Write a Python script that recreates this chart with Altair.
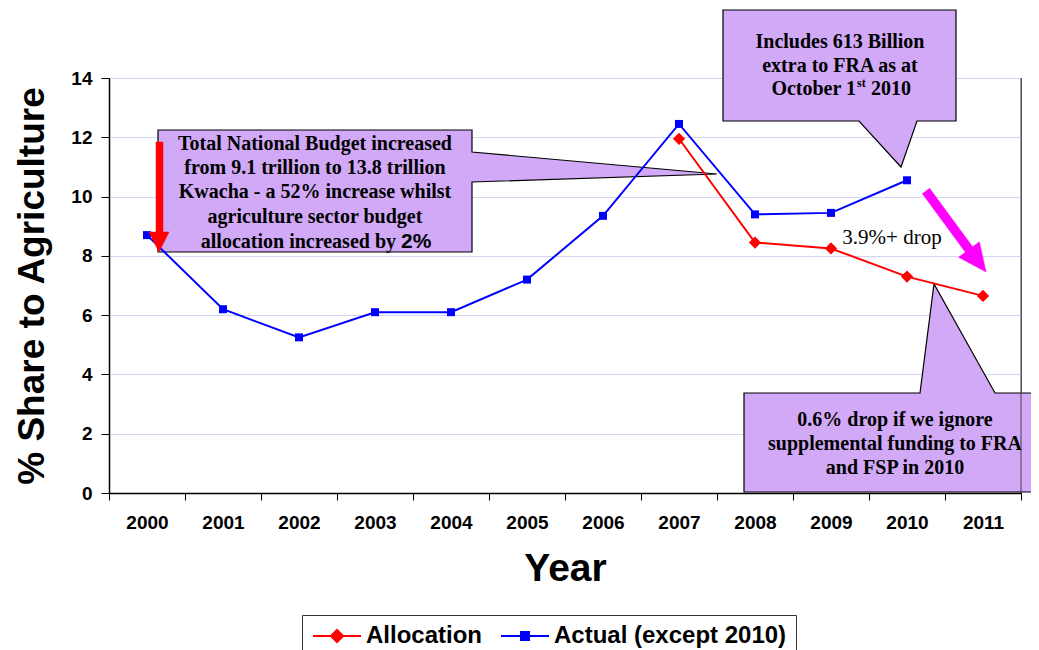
import altair as alt
import pandas as pd

# ---------------- data ----------------
years = ["2000", "2001", "2002", "2003", "2004", "2005",
         "2006", "2007", "2008", "2009", "2010", "2011"]
allocation = [None, None, None, None, None, None, None,
              11.95, 8.45, 8.25, 7.3, 6.65]
actual = [8.7, 6.2, 5.25, 6.1, 6.1, 7.2, 9.35,
          12.45, 9.4, 9.45, 10.55, None]
series_names = ["Allocation", "Actual (except 2010)"]
series_colors = ["#FF0000", "#0000FF"]
y_ticks = [0, 2, 4, 6, 8, 10, 12, 14]

rows = []
for name, vals in zip(series_names, [allocation, actual]):
    for yr, v in zip(years, vals):
        if v is not None:
            rows.append({"year": yr, "series": name, "value": v})
df = pd.DataFrame(rows)
one = pd.DataFrame({"k": [0]})

# ---------------- styling ----------------
W, H = 912, 415
SERIF = "Liberation Serif"
SANS = "Liberation Sans"
CALLOUT_FILL = "#d1a9f7"

x_enc = alt.X(
    "year:O",
    scale=alt.Scale(type="band", domain=years, paddingInner=0, paddingOuter=0),
    axis=alt.Axis(
        labelAngle=0, tickBand="extent", tickSize=7, tickColor="black",
        domainColor="black", domainWidth=1.5, labelPadding=13,
        labelFont=SANS, labelFontSize=19, labelFontWeight="bold", labelColor="black",
        titleFont=SANS, titleFontSize=39, titleFontWeight="bold", titleColor="black",
        titlePadding=17, grid=False, zindex=1,
    ),
    title="Year",
)
y_enc = alt.Y(
    "value:Q",
    scale=alt.Scale(domain=[0, 14], nice=False, zero=True),
    axis=alt.Axis(
        values=y_ticks, tickSize=8, tickColor="black", domainColor="black",
        domainWidth=1.5, labelPadding=9,
        labelFont=SANS, labelFontSize=19, labelFontWeight="bold", labelColor="black",
        titleFont=SANS, titleFontSize=37, titleFontWeight="bold", titleColor="black",
        titlePadding=19, grid=True, gridColor="#d4d4f7", gridWidth=1,
    ),
    title="% Share to Agriculture",
)

base = alt.Chart(df).encode(x=x_enc, y=y_enc)


def series_layers(name, color, shape, size):
    sub = base.transform_filter(alt.datum.series == name)
    line = sub.mark_line(color=color, strokeWidth=2)
    pts = sub.mark_point(shape=shape, filled=True, color=color, size=size,
                         opacity=1, strokeWidth=0)
    return [line, pts]


# legend (line + marker symbols)
legend_paths = [
    "M-2.4,0H2.4M-0.6,0L0,-0.6L0.6,0L0,0.6Z",
    "M-2.4,0H2.4M-0.4,-0.4H0.4V0.4H-0.4Z",
]
leg = alt.Legend(
    title=None, orient="none", legendX=193, legendY=537, direction="horizontal",
    symbolSize=400, symbolStrokeWidth=2, symbolOffset=14, labelOffset=17,
    symbolOpacity=1, labelFont=SANS, labelFontSize=24, labelFontWeight="bold",
    labelColor="black", labelLimit=500, padding=9, strokeColor="#333",
    columnPadding=14, fillColor="white",
)
legend_layer = base.mark_point(filled=True, opacity=0, strokeWidth=2).encode(
    fill=alt.Fill("series:N", scale=alt.Scale(domain=series_names, range=series_colors), legend=leg),
    stroke=alt.Stroke("series:N", scale=alt.Scale(domain=series_names, range=series_colors), legend=leg),
    shape=alt.Shape("series:N", scale=alt.Scale(domain=series_names, range=legend_paths), legend=leg),
)


def shape_poly(path, fill, stroke="black", sw=1.2):
    return alt.Chart(one).mark_point(
        shape=path, size=4, filled=True, fill=fill, stroke=stroke,
        strokeWidth=sw, opacity=1
    ).encode(x=alt.value(0), y=alt.value(0))


def label(txt, x, y, size=20, font=SERIF, weight="bold", align="center"):
    return alt.Chart(one).mark_text(
        text=txt, font=font, fontSize=size, fontWeight=weight, align=align,
        baseline="middle", color="black"
    ).encode(x=alt.value(x), y=alt.value(y))


callouts = [
    shape_poly("M49,52L363,52L363,74L608,96L363,104L363,174L49,174Z", CALLOUT_FILL),
    shape_poly("M614,-68L847,-68L847,43L808,43L792,89L750,43L614,43Z", CALLOUT_FILL),
    shape_poly("M635,315L811,315L825,206L886,315L927,315L927,414L635,414Z", CALLOUT_FILL),
]
arrows = [
    shape_poly("M47,64L54,64L54,154L60,154L50,174L40,154L47,154Z", "#FF0000", stroke="#FF0000", sw=0.5),
    shape_poly("M813.4,115.7L820.6,110.3L863.6,168.8L870.4,163.8L877,194L849.6,179.2L856.4,174.2Z",
               "#FF00FF", stroke="#FF00FF", sw=0.5),
]
texts = [
    label("Total National Budget  increased", 206, 66),
    label("from 9.1 trillion to 13.8 trillion", 206, 90),
    label("Kwacha -  a 52% increase whilst", 206, 114),
    label("agriculture sector budget", 206, 139),
    label("allocation increased by", 287, 164, align="right"),
    label("2%", 292, 164, size=21, font=SANS, align="left"),
    label("Includes 613 Billion", 731, -36),
    label("extra to FRA as at", 731, -12),
    label("October 1", 747, 11, align="right"),
    label("st", 748, 5, size=12, align="left"),
    label("2010", 762, 11, align="left"),
    label("0.6% drop if  we ignore", 786, 342),
    label("supplemental funding to FRA", 786, 366),
    label("and FSP in 2010", 786, 390),
    label("3.9%+ drop", 783, 160, size=21, weight="normal"),
]
border = alt.Chart(one).mark_rule(color="#444", strokeWidth=1).encode(
    x=alt.value(W), y=alt.value(0), y2=alt.value(H))

layers = (callouts
          + series_layers("Actual (except 2010)", "#0000FF", "square", 64)
          + series_layers("Allocation", "#FF0000", "diamond", 150)
          + [legend_layer] + arrows + texts + [border])

chart = alt.layer(*layers).properties(
    width=W, height=H,
    autosize=alt.AutoSizeParams(type="none"),
    padding={"left": 101, "top": 70, "right": 10, "bottom": 160},
).configure_view(stroke="#555", strokeWidth=1)

chart.save("out.html", embed_options={"renderer": "svg", "actions": False})
